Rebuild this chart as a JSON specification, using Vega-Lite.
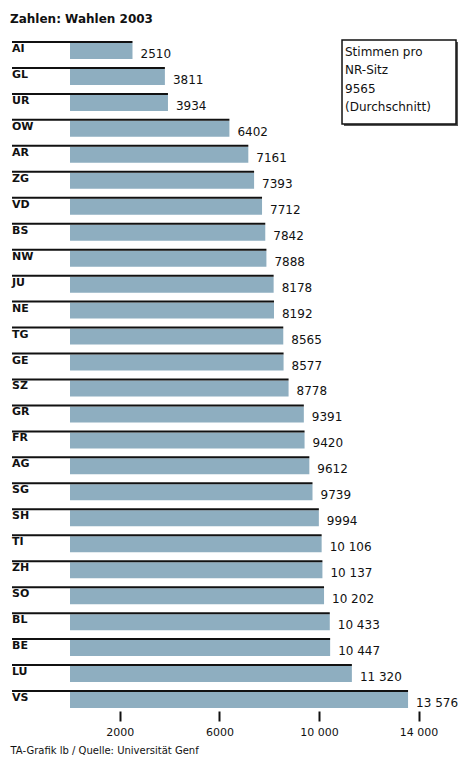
{
  "$schema": "https://vega.github.io/schema/vega-lite/v6.json",
  "width": 459,
  "height": 675,
  "autosize": {"type": "none"},
  "padding": {"top": 41, "left": 0, "right": 0, "bottom": 42},
  "background": "white",
  "config": {
    "view": {"stroke": null},
    "font": "DejaVu Sans",
    "locale": {"number": {"decimal": ".", "thousands": " ", "grouping": [3], "currency": ["", ""]}}
  },
  "title": {"text": "Zahlen: Wahlen 2003", "anchor": "start", "frame": "group", "dx": 10, "offset": 13, "fontSize": 12, "fontWeight": "bold", "color": "#111", "font": "DejaVu Sans"},
  "datasets": {
    "kantone": [
      {"kanton": "AI", "stimmen": 2510},
      {"kanton": "GL", "stimmen": 3811},
      {"kanton": "UR", "stimmen": 3934},
      {"kanton": "OW", "stimmen": 6402},
      {"kanton": "AR", "stimmen": 7161},
      {"kanton": "ZG", "stimmen": 7393},
      {"kanton": "VD", "stimmen": 7712},
      {"kanton": "BS", "stimmen": 7842},
      {"kanton": "NW", "stimmen": 7888},
      {"kanton": "JU", "stimmen": 8178},
      {"kanton": "NE", "stimmen": 8192},
      {"kanton": "TG", "stimmen": 8565},
      {"kanton": "GE", "stimmen": 8577},
      {"kanton": "SZ", "stimmen": 8778},
      {"kanton": "GR", "stimmen": 9391},
      {"kanton": "FR", "stimmen": 9420},
      {"kanton": "AG", "stimmen": 9612},
      {"kanton": "SG", "stimmen": 9739},
      {"kanton": "SH", "stimmen": 9994},
      {"kanton": "TI", "stimmen": 10106},
      {"kanton": "ZH", "stimmen": 10137},
      {"kanton": "SO", "stimmen": 10202},
      {"kanton": "BL", "stimmen": 10433},
      {"kanton": "BE", "stimmen": 10447},
      {"kanton": "LU", "stimmen": 11320},
      {"kanton": "VS", "stimmen": 13576}
    ],
    "legende": [{"label": "Stimmen pro NR-Sitz", "durchschnitt": 9565}]
  },
  "data": {"name": "kantone"},
  "layer": [
    {
      "mark": {"type": "bar", "color": "#8eaec0", "height": 16, "yOffset": -3},
      "encoding": {
        "y": {"field": "kanton", "type": "nominal", "sort": null, "axis": null,
          "scale": {"paddingInner": 0, "paddingOuter": 0}},
        "x": {"field": "stimmen", "type": "quantitative",
          "scale": {"domain": [-2811, 15622], "nice": false, "zero": false},
          "axis": {"values": [2000, 6000, 10000, 14000], "grid": false, "domain": false,
            "tickSize": 10, "tickWidth": 2, "tickColor": "#111", "offset": -5,
            "labelFontSize": 11, "labelColor": "#111", "labelPadding": 5, "labelFont": "DejaVu Sans",
            "labelExpr": "datum.value >= 10000 ? replace(format(datum.value, ','), ',', ' ') : format(datum.value, 'd')",
            "title": "TA-Grafik lb / Quelle: Universität Genf", "titleAnchor": "start", "titleAlign": "left", "titleBaseline": "top", "titleX": 10, "titleY": 34,
            "titleFontSize": 10, "titleFontWeight": "normal", "titleColor": "#111", "titleFont": "DejaVu Sans"}
        }
      }
    },
    {
      "mark": {"type": "rule", "color": "#111", "strokeWidth": 2, "yOffset": -12},
      "encoding": {
        "y": {"field": "kanton", "type": "nominal", "sort": null},
        "x": {"field": "stimmen", "type": "quantitative"},
        "x2": {"datum": -2329}
      }
    },
    {
      "mark": {"type": "text", "align": "left", "baseline": "middle", "fontSize": 11, "fontWeight": "bold", "color": "#111", "yOffset": -5},
      "encoding": {
        "y": {"field": "kanton", "type": "nominal", "sort": null},
        "x": {"datum": -2329, "type": "quantitative"},
        "text": {"field": "kanton", "type": "nominal"}
      }
    },
    {
      "transform": [{"filter": {"field": "stimmen", "lt": 10000}}],
      "mark": {"type": "text", "align": "left", "baseline": "middle", "fontSize": 12, "color": "#111", "dx": 8},
      "encoding": {
        "y": {"field": "kanton", "type": "nominal", "sort": null},
        "x": {"field": "stimmen", "type": "quantitative"},
        "text": {"field": "stimmen", "type": "quantitative", "format": "d"}
      }
    },
    {
      "transform": [{"filter": {"field": "stimmen", "gte": 10000}}],
      "mark": {"type": "text", "align": "left", "baseline": "middle", "fontSize": 12, "color": "#111", "dx": 8},
      "encoding": {
        "y": {"field": "kanton", "type": "nominal", "sort": null},
        "x": {"field": "stimmen", "type": "quantitative"},
        "text": {"field": "stimmen", "type": "quantitative", "format": ","}
      }
    },
    {
      "data": {"name": "legende"},
      "mark": {"type": "bar", "fill": "#555", "height": 84, "yOffset": 4},
      "encoding": {
        "y": {"datum": "GL", "type": "nominal"},
        "x": {"datum": 11004, "type": "quantitative"},
        "x2": {"datum": 15582}
      }
    },
    {
      "data": {"name": "legende"},
      "mark": {"type": "bar", "fill": "white", "stroke": "#111", "strokeWidth": 1.5, "height": 84, "yOffset": 2},
      "encoding": {
        "y": {"datum": "GL", "type": "nominal"},
        "x": {"datum": 10924, "type": "quantitative"},
        "x2": {"datum": 15502}
      }
    },
    {
      "data": {"name": "legende"},
      "mark": {"type": "text", "align": "left", "baseline": "top", "fontSize": 12, "fontWeight": "normal", "lineHeight": 18.5, "color": "#111", "yOffset": -7,
        "text": ["Stimmen pro", "NR-Sitz", "9565", "(Durchschnitt)"]},
      "encoding": {
        "y": {"datum": "AI", "type": "nominal"},
        "x": {"datum": 11044, "type": "quantitative"}
      }
    }
  ]
}
